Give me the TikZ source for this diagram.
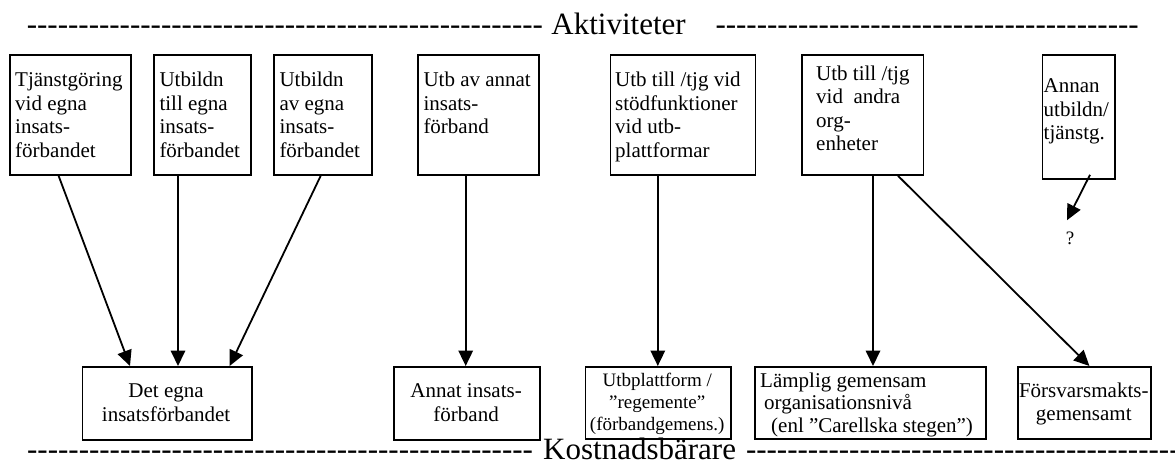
\documentclass[tikz,border=0pt]{standalone}
\usepackage{fontspec}
\setmainfont{Liberation Serif}
\usetikzlibrary{arrows.meta,calc}

% a row of separate hyphens (kerns keep them from turning into dashes)
\newcommand\hyphenrow[1]{\foreach \k in {1,...,#1}{-\kern0pt}}

\tikzset{
  box/.style={draw, line width=1.8pt, inner sep=0pt, anchor=north west},
  conn/.style={line width=1.8pt, -{Triangle[length=15.5pt,width=14.5pt]}},
  lbl/.style={inner sep=0pt, anchor=base west, font=\fontsize{21}{23.6}\selectfont},
  clbl/.style={inner sep=0pt, anchor=base, font=\fontsize{21}{24}\selectfont},
  head/.style={inner sep=0pt, font=\fontsize{31}{36}\selectfont}
}

\begin{document}
\begin{tikzpicture}[x=1pt,y=-1pt]
\useasboundingbox (0,0) rectangle (1175,469);

% section headings
\node[head, anchor=base east] (dashTL) at (543.2,34.7) {\hyphenrow{50}};
\node[head, anchor=base west] (act) at (551.2,34.7) {Aktiviteter};
\node[head, anchor=base west] (dashTR) at (715.3,34.7) {\hyphenrow{41}};

\node[head, anchor=base east] (dashBL) at (533.2,459) {\hyphenrow{49}};
\node[head, anchor=base west] (cost) at (543,459) {Kostnadsbärare};
\node[head, anchor=base west] (dashBR) at (745.8,459) {\hyphenrow{43}};

% activities
\node[box, minimum width=121pt,   minimum height=120pt] (a1) at (9,54) {};
\node[box, minimum width=97pt,    minimum height=120pt] (a2) at (153,54) {};
\node[box, minimum width=98pt,    minimum height=120pt] (a3) at (273,54) {};
\node[box, minimum width=121pt,   minimum height=120pt] (a4) at (417,54) {};
\node[box, minimum width=145pt,   minimum height=120pt] (a5) at (609.6,54) {};
\node[box, minimum width=121.5pt, minimum height=120pt] (a6) at (801,54) {};
\node[box, minimum width=72.4pt,  minimum height=124pt] (a7) at (1041.6,54) {};

\node[lbl] (t1) at (15,86.7)    {\parbox[t]{120pt}{\raggedright Tjänstgöring\\vid egna\\insats-\\förbandet}};
\node[lbl] (t2) at (159.3,86.7) {\parbox[t]{100pt}{\raggedright Utbildn\\till egna\\insats-\\förbandet}};
\node[lbl] (t3) at (279.3,86.7) {\parbox[t]{100pt}{\raggedright Utbildn\\av egna\\insats-\\förbandet}};
\node[lbl] (t4) at (423.3,86.7) {\parbox[t]{120pt}{\raggedright Utb av annat\\insats-\\förband}};
\node[lbl] (t5) at (615,86.7)   {\parbox[t]{140pt}{\raggedright Utb till /tjg vid\\stödfunktioner\\vid utb-\\plattformar}};
\node[lbl] (t6) at (816,80)     {\parbox[t]{110pt}{\raggedright Utb till /tjg\\vid\ \ andra\\org-\\enheter}};
\node[lbl] (t7) at (1043.5,92.5){\parbox[t]{72pt}{\raggedright Annan\\utbildn/\\tjänstg.}};

% cost carriers
\node[box, minimum width=169.2pt, minimum height=73pt] (c1) at (81.5,366) {};
\node[box, minimum width=145.4pt, minimum height=73pt] (c2) at (393.4,366) {};
\node[box, minimum width=145.2pt, minimum height=72pt] (c3) at (584.6,366) {};
\node[box, minimum width=231.3pt, minimum height=72pt] (c4) at (753.7,366) {};
\node[box, minimum width=133pt,   minimum height=72pt] (c5) at (1017.3,366) {};

\node[clbl] (u1) at (166.1,397) {\parbox[t]{165pt}{\centering Det egna\\insatsförbandet}};
\node[clbl] (u2) at (466.1,397) {\parbox[t]{140pt}{\centering Annat insats-\\förband}};
\node[clbl, font=\fontsize{19}{21.7}\selectfont] (u3) at (657.2,386.7)
  {\parbox[t]{145pt}{\centering Utbplattform /\\”regemente”\\(förbandgemens.)}};
\node[lbl, font=\fontsize{21}{22.6}\selectfont] (u4) at (760,387)
  {\parbox[t]{230pt}{\raggedright Lämplig gemensam\\\hspace*{4pt}organisationsnivå\\\hspace*{11pt}(enl ”Carellska stegen”)}};
\node[clbl, font=\fontsize{21}{23.5}\selectfont] (u5) at (1083.8,397) {\parbox[t]{130pt}{\centering Försvarsmakts-\\gemensamt}};

\node[inner sep=0pt, anchor=base, font=\fontsize{19}{21}\selectfont] (q) at (1070,244) {?};

% connectors
\draw[conn] ($(a1.south west)+(49.6,0)$) -- ($(c1.north west)+(48.5,0)$);
\draw[conn] ($(a2.south west)+(25,0)$)   -- ($(c1.north west)+(96.5,0)$);
\draw[conn] ($(a3.south west)+(47.7,0)$) -- ($(c1.north west)+(148.1,0)$);
\draw[conn] ($(a4.south west)+(48.7,0)$) -- ($(c2.north west)+(72.3,0)$);
\draw[conn] ($(a5.south west)+(48.2,0)$) -- ($(c3.north west)+(73.2,0)$);
\draw[conn] ($(a6.south west)+(72,0)$)   -- ($(c4.north west)+(119.3,0)$);
\draw[conn] ($(a6.south west)+(97,0)$)   -- ($(c5.north west)+(72.1,0)$);
\draw[conn] ($(a7.south west)+(48.4,-5)$) -- ($(q.north)+(-3,-11)$);
\end{tikzpicture}
\end{document}
